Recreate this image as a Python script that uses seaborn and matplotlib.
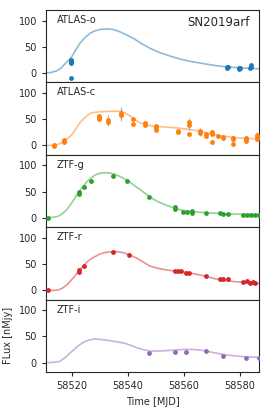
import numpy as np
import pandas as pd
import matplotlib
matplotlib.use("Agg")
import matplotlib.pyplot as plt
import seaborn as sns

bands = ["ATLAS-o", "ATLAS-c", "ZTF-g", "ZTF-r", "ZTF-i"]
colors = ["#1f77b4", "#ff7f0e", "#2ca02c", "#d62728", "#9467bd"]
title = "SN2019arf"

# model curves (time, flux)
o_ct = [58510.7, 58512.5, 58514.5, 58516.0, 58517.2, 58518.5, 58519.9, 58521.3, 58522.8, 58524.5, 58526.4, 58528.0,
        58530.0, 58532.9, 58535.0, 58537.1, 58539.5, 58541.9, 58544.8, 58547.8, 58550.8, 58553.8, 58556.7,
        58559.7, 58562.7, 58565.7, 58568.7, 58571.7, 58574.6, 58577.6, 58582.0, 58586.8]
o_cf = [0, 1, 4, 9, 15.7, 23, 31, 44, 56.6, 67, 75.5, 80,
        83, 84, 82.5, 78.5, 72.5, 66, 56, 47, 40, 34.5, 29.5,
        25, 21.8, 19, 16.2, 13.8, 12, 10.6, 9.2, 8]
c_ct = [58510.7, 58513.7, 58515.5, 58517.2, 58518.5, 58519.9, 58521.3, 58522.8, 58524.6, 58526.4, 58528.2, 58530.0,
        58533.5, 58537.1, 58539.0, 58540.7, 58542.5, 58544.3, 58546.5, 58549.0, 58553.0, 58557.4, 58561.5,
        58565.7, 58569.0, 58572.8, 58576.5, 58580.0, 58583.0, 58586.8]
c_cf = [0, 0, 3, 7.7, 13.5, 20.5, 31, 43, 53, 61, 63, 64,
        65, 65, 61.5, 56, 49, 43, 39, 36.5, 35, 33.4, 30.5,
        27, 22.5, 18.6, 16, 14, 13, 12.3]
g_ct = [58510.7, 58513.0, 58515.1, 58516.6, 58518.1, 58520.0, 58521.7, 58523.5, 58525.3, 58527.0, 58528.8, 58530.5,
        58532.1, 58533.7, 58535.3, 58537.4, 58539.5, 58541.9, 58544.3, 58546.6, 58549.0, 58551.4, 58553.8,
        58556.7, 58559.7, 58562.7, 58565.7, 58570.5, 58575.2, 58581.0, 58586.8]
g_cf = [0, 0.8, 3, 8, 15.6, 29, 43.7, 57, 68.7, 77, 83, 85.5,
        86, 85.2, 83, 78, 72, 63, 54, 44.5, 35.6, 28.8, 23.7,
        18.2, 14, 11.8, 10.5, 8.8, 7.5, 6.6, 6]
r_ct = [58510.7, 58513.0, 58515.1, 58516.6, 58518.1, 58520.2, 58522.2, 58524.0, 58525.8, 58528.0, 58530.0, 58532.1,
        58534.2, 58536.3, 58538.3, 58540.7, 58543.1, 58545.5, 58547.8, 58550.8, 58553.8, 58556.7, 58559.7,
        58562.7, 58565.7, 58568.7, 58571.7, 58574.6, 58577.6, 58582.0, 58586.8]
r_cf = [-1, -0.5, 0.5, 4, 10, 22, 35, 46, 56, 63.5, 69, 72,
        73.5, 73.3, 71.5, 67, 61, 53.5, 46, 41.5, 38.5, 36.5, 35,
        32.2, 29, 25, 21, 18.5, 16.5, 14.6, 13]
i_ct = [58510.7, 58513.0, 58515.5, 58517.6, 58519.9, 58522.0, 58524.0, 58526.0, 58528.2, 58530.9, 58533.6, 58536.3,
        58538.9, 58541.0, 58543.1, 58545.5, 58547.8, 58550.8, 58553.8, 58556.7, 58559.7, 58562.7, 58565.7,
        58568.1, 58570.5, 58572.9, 58575.2, 58578.2, 58581.2, 58586.8]
i_cf = [0, 0.3, 2, 10, 21, 31, 38.5, 43, 45, 43.7, 41.7, 39.3,
        36.7, 32.8, 28.4, 24.6, 22, 22, 22.7, 23.9, 25, 25, 24,
        21.8, 19, 16.6, 14.5, 12.8, 11.4, 10]

# observations (time, flux, error)
o_t = [58519.5, 58519.5, 58519.6, 58519.6, 58519.7, 58519.6, 58575.4, 58575.6, 58575.5, 58579.8, 58579.9, 58579.8, 58583.7, 58583.9, 58583.8]
o_f = [19, 21, 23, 25, 22, -9, 9, 11, 12, 7, 9, 10, 9, 12, 15]
o_e = [3, 3, 3, 3, 3, 2, 2, 2, 2, 2, 2, 2, 2, 2, 3]
c_t = [58513.4, 58513.4, 58517.1, 58517.1, 58517.1, 58529.6, 58529.6, 58529.6, 58532.7, 58532.7,
       58537.6, 58537.6, 58541.9, 58541.9, 58545.9, 58545.9, 58550.0, 58550.0, 58550.0, 58557.7, 58557.7,
       58561.8, 58561.8, 58561.8, 58565.7, 58565.7, 58567.7, 58567.7, 58569.9, 58569.9, 58569.9, 58572.0,
       58573.8, 58573.8, 58577.6, 58577.6, 58577.6, 58582.0, 58582.0, 58582.0, 58586.2, 58586.2, 58586.2]
c_f = [-1, 1, 6, 9, 11, 50, 54, 56, 45, 49,
       58, 62, 51, 41, 39, 42, 30, 34, 37, 26, 28,
       38, 44, 21, 24, 28, 17, 21, 22, 26, 7, 17,
       14, 16, 13, 15, 3, 9, 12, 15, 12, 16, 20]
c_e = [3, 3, 3, 3, 3, 4, 4, 4, 8, 8,
       12, 12, 3, 3, 3, 3, 3, 3, 3, 3, 3,
       9, 9, 3, 6, 6, 3, 3, 4, 4, 3, 3,
       3, 3, 3, 3, 3, 3, 3, 3, 4, 4, 4]
g_t = [58511.5, 58522.5, 58522.5, 58524.4, 58526.7, 58534.5, 58539.5, 58547.6, 58556.8, 58556.8,
       58559.7, 58561.1, 58562.7, 58562.7, 58567.8, 58572.8, 58574.0, 58575.8, 58581.0, 58582.4, 58583.9, 58585.4, 58586.7]
g_f = [0, 45, 49, 58, 70.5, 79, 70, 40.5, 17, 21,
       11.5, 11.5, 10, 13, 9.5, 9, 7.5, 7.5, 6, 6, 6, 6, 6]
g_e = [1.5] * len(g_t)
r_t = [58511.5, 58522.5, 58522.5, 58524.4, 58534.5, 58540.5, 58556.8, 58558.0, 58559.0, 58560.7, 58561.9,
       58567.7, 58572.8, 58574.0, 58575.8, 58581.0, 58582.4, 58583.5, 58584.5, 58585.5]
r_f = [1, 35, 39, 46.5, 72, 67, 37, 36.5, 36, 33.5, 32.5,
       27, 21.5, 21, 21, 15, 17, 14, 15, 14]
r_e = [1.5] * len(r_t)
i_t = [58547.6, 58556.8, 58560.7, 58567.8, 58573.8, 58582.0, 58586.7]
i_f = [19, 21, 21, 22, 13, 8, 8]
i_e = [1.5] * len(i_t)

curves = [(o_ct, o_cf), (c_ct, c_cf), (g_ct, g_cf), (r_ct, r_cf), (i_ct, i_cf)]
obs = [(o_t, o_f, o_e), (c_t, c_f, c_e), (g_t, g_f, g_e), (r_t, r_f, r_e), (i_t, i_f, i_e)]

xticks = [58520, 58540, 58560, 58580]
yticks = [0, 50, 100]

sns.set_style("ticks")
plt.rcParams['font.family'] = ['DejaVu Sans']

fig, axes = plt.subplots(5, 1, figsize=(2.66, 4.18), dpi=100, sharex=True)
fig.subplots_adjust(left=0.173, right=0.974, top=0.976, bottom=0.110, hspace=0)

for ax, band, col, (ct, cf), (t, f, e) in zip(axes, bands, colors, curves, obs):
    cdf = pd.DataFrame({"t": ct, "f": cf})
    sns.lineplot(data=cdf, x="t", y="f", ax=ax, color=col, alpha=0.5, lw=1.2)
    ax.errorbar(t, f, yerr=e, fmt="none", ecolor="grey", elinewidth=0.8, alpha=0.6, zorder=2)
    odf = pd.DataFrame({"t": t, "f": f})
    sns.scatterplot(data=odf, x="t", y="f", ax=ax, color=col, s=12, linewidth=0, zorder=3)
    ax.set_ylim(-18, 120)
    ax.set_xlim(58510.7, 58586.8)
    ax.set_yticks(yticks)
    ax.set_xticks(xticks)
    ax.tick_params(labelsize=7, length=3, width=0.8)
    ax.set_xlabel("")
    ax.set_ylabel("")
    ax.text(0.05, 0.93, band, transform=ax.transAxes, ha="left", va="top", fontsize=7)
    for s in ax.spines.values():
        s.set_linewidth(0.8)

axes[0].text(0.955, 0.92, title, transform=axes[0].transAxes, ha="right", va="top", fontsize=8.5)
axes[-1].set_ylabel("FLux [nMjy]", fontsize=7)
axes[-1].set_xlabel("Time [MJD]", fontsize=7)
axes[-1].set_xticklabels([str(x) for x in xticks])

fig.savefig("out.png", dpi=100)
